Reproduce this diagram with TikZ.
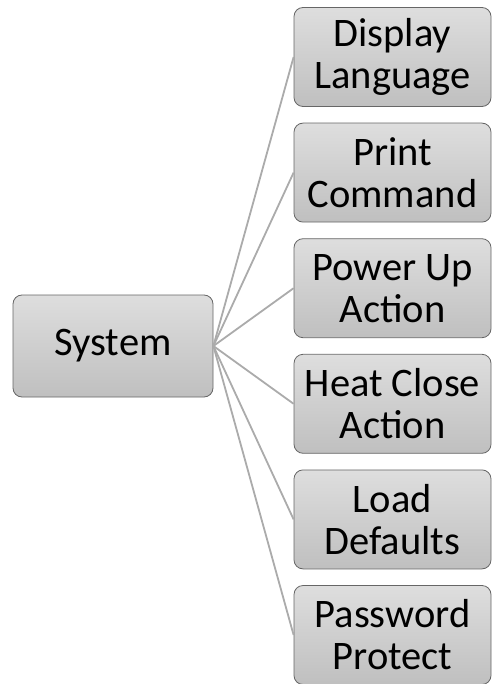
\documentclass[tikz,border=0pt]{standalone}
\usepackage{fontspec}
\setmainfont{Carlito}
\begin{document}
\begin{tikzpicture}[x=1pt,y=-1pt,
  box/.style={draw=black!60, line width=0.8pt, rounded corners=9pt, top color=black!13, bottom color=black!25, inner sep=0pt, align=center, font=\fontsize{40.5}{42}\selectfont},
  conn/.style={draw=black!33, line width=1.8pt}]
\useasboundingbox (0,0) rectangle (492,684);
\node[box, minimum width=200pt, minimum height=102pt] (sys) at (113,346) {System};
\foreach \n/\t [count=\i from 0] in {dl/{Display\\Language}, pc/{Print\\Command}, pu/{Power Up\\Action}, hc/{Heat Close\\Action}, ld/{Load\\Defaults}, pp/{Password\\Protect}} {
  \node[box, minimum width=197pt, minimum height=99pt] (\n) at (392.5,57+115.6*\i) {\t};
}
\foreach \n in {dl,pc,pu,hc,ld,pp} {
  \draw[conn] (sys.east) -- (\n.west);
}
\end{tikzpicture}
\end{document}
